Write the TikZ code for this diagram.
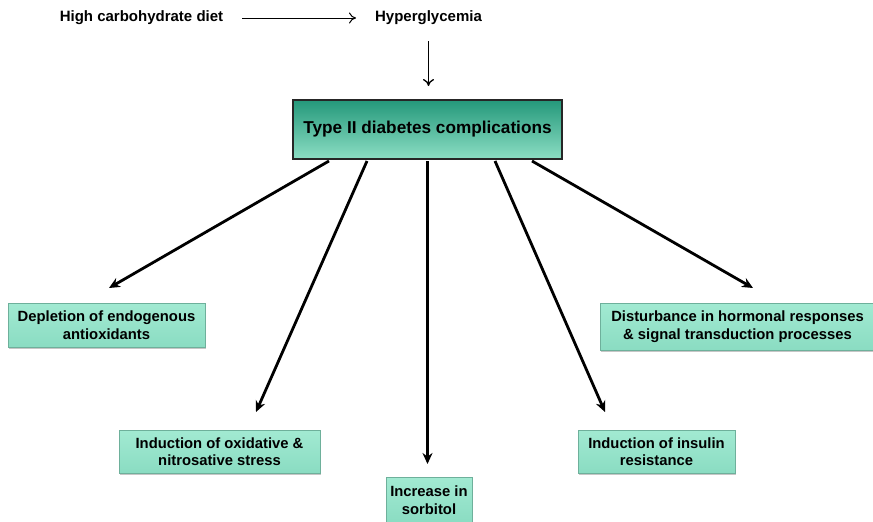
\documentclass[tikz,border=0pt]{standalone}
\usepackage{fontspec}
\setmainfont{Liberation Sans}
\usetikzlibrary{shadows,arrows.meta}
\definecolor{tealdark}{RGB}{36,152,122}
\definecolor{teallight}{RGB}{140,222,196}
\definecolor{mint}{RGB}{138,220,194}
\definecolor{mintlight}{RGB}{162,234,210}
\begin{document}
\begin{tikzpicture}[x=1pt,y=-1pt,
  lbl/.style={font=\bfseries\fontsize{15}{18}\selectfont, inner sep=0pt},
  mainbox/.style={draw=black!85, line width=2.8pt, top color=tealdark, bottom color=teallight,
    minimum width=269pt, minimum height=59pt, font=\bfseries\fontsize{17.2}{20}\selectfont},
  leafbox/.style={top color=mintlight, bottom color=mint, inner sep=0pt,
    draw=mint!80!black, line width=0.4pt,
    drop shadow={opacity=0.45, shadow xshift=1pt, shadow yshift=-2pt},
    font=\bfseries\fontsize{14.8}{17.5}\selectfont, align=center},
  thin/.style={-{To[length=7pt,width=11pt]}, line width=1pt},
  thick/.style={-{Stealth[length=11pt,width=10pt]}, line width=2.8pt}]
\useasboundingbox (0,0) rectangle (873,522);

% top row
\node[lbl] (diet) at (141.5,18) {High carbohydrate diet};
\node[lbl] (hyper) at (428.5,18) {Hyperglycemia};
\draw[thin] (242,18) -- (356,18);
\draw[thin, line width=1.3pt] (hyper.south |- 0,41) -- (hyper.south |- 0,86);

% central box
\node[mainbox] (main) at (427.5,129.5) {Type II diabetes complications};

% outcome boxes
\node[leafbox, minimum width=197pt, minimum height=44pt] (dep) at (106.5,325) {Depletion of endogenous\\antioxidants};
\node[leafbox, minimum width=275pt, minimum height=47pt] (dist) at (737.5,326.5) {Disturbance in hormonal responses\\\& signal transduction processes};
\node[leafbox, minimum width=201pt, minimum height=43pt] (oxi) at (219.5,451.5) {Induction of oxidative \&\\nitrosative stress};
\node[leafbox, minimum width=86pt, minimum height=46pt] (sorb) at (429,500) {Increase in\\sorbitol};
\node[leafbox, minimum width=157pt, minimum height=43pt] (ins) at (656.5,451.5) {Induction of insulin\\resistance};

% connectors from the central box
\coordinate (s1) at (329,161);
\coordinate (s2) at (367,161);
\coordinate (s3) at (427.5,161);
\coordinate (s4) at (495,161);
\coordinate (s5) at (532,161);
\coordinate (e1) at (109,288);
\coordinate (e2) at (256,412);
\coordinate (e3) at (427.5,464);
\coordinate (e4) at (605,412);
\coordinate (e5) at (753,288);
\draw[thick] (s1) -- (e1);
\draw[thick] (s2) -- (e2);
\draw[thick] (s3) -- (e3);
\draw[thick] (s4) -- (e4);
\draw[thick] (s5) -- (e5);
\end{tikzpicture}
\end{document}
